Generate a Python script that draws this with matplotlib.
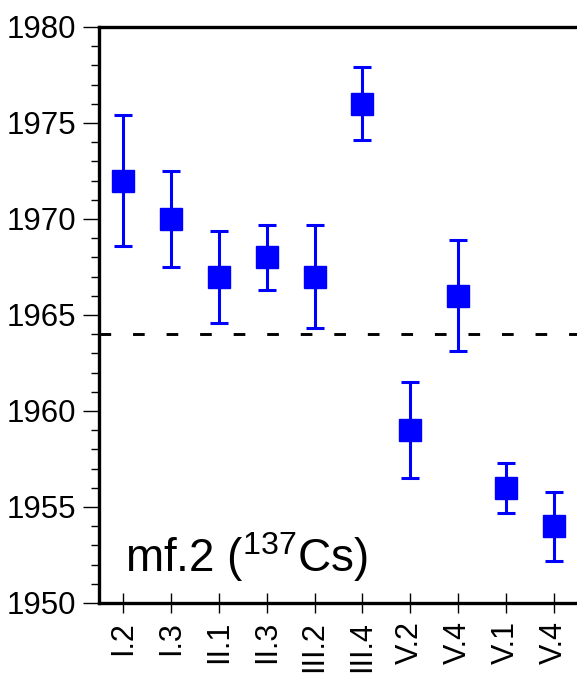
import numpy as np
import matplotlib
matplotlib.use("Agg")
import matplotlib.pyplot as plt
from matplotlib.ticker import MultipleLocator

plt.rcParams['font.family'] = ['Liberation Sans', 'DejaVu Sans']
plt.rcParams['mathtext.fontset'] = 'custom'
plt.rcParams['mathtext.rm'] = 'Liberation Sans'

# Sample labels and dated years with uncertainties
samples = ['I.2', 'I.3', 'II.1', 'II.3', 'III.2', 'III.4', 'V.2', 'V.4', 'V.1', 'V.4']
years = [1972, 1970, 1967, 1968, 1967, 1976, 1959, 1966, 1956, 1954]
errors = [3.4, 2.5, 2.4, 1.7, 2.7, 1.9, 2.5, 2.9, 1.3, 1.8]
ref_year = 1964

fig = plt.figure(figsize=(5.77, 6.73), dpi=100)
ax = fig.add_axes([99 / 577, 70 / 673, 479 / 577, 576 / 673])

x = np.arange(len(samples))
ax.errorbar(x, years, yerr=errors, fmt='s', color='#0000ff', ecolor='#0000ff',
            markersize=15.5, elinewidth=2.2, capsize=6.8, capthick=2.2)
ax.axhline(ref_year, color='black', linestyle=(0, (4, 7.5)), linewidth=2.1)

ax.set_xlim(-0.5, len(samples) - 0.5)
ax.set_ylim(1950, 1980)
ax.set_xticks(x)
ax.set_xticklabels(samples, rotation=90, fontsize=22)
ax.yaxis.set_major_locator(MultipleLocator(5))
ax.yaxis.set_minor_locator(MultipleLocator(1))
ax.tick_params(axis='y', which='major', labelsize=22.5, length=11.5, width=1, pad=5)
ax.tick_params(axis='y', which='minor', length=6, width=1)
ax.tick_params(axis='x', direction='inout', length=15, width=1, pad=5.5)

for side in ['left', 'top', 'bottom']:
    ax.spines[side].set_linewidth(2.4)
ax.spines['right'].set_visible(False)

ax.text(0.055, 0.053, r'mf.2 ($\mathregular{^{137}}$Cs)', transform=ax.transAxes,
        fontsize=33, ha='left', va='baseline')

fig.savefig('out.png', dpi=100)
